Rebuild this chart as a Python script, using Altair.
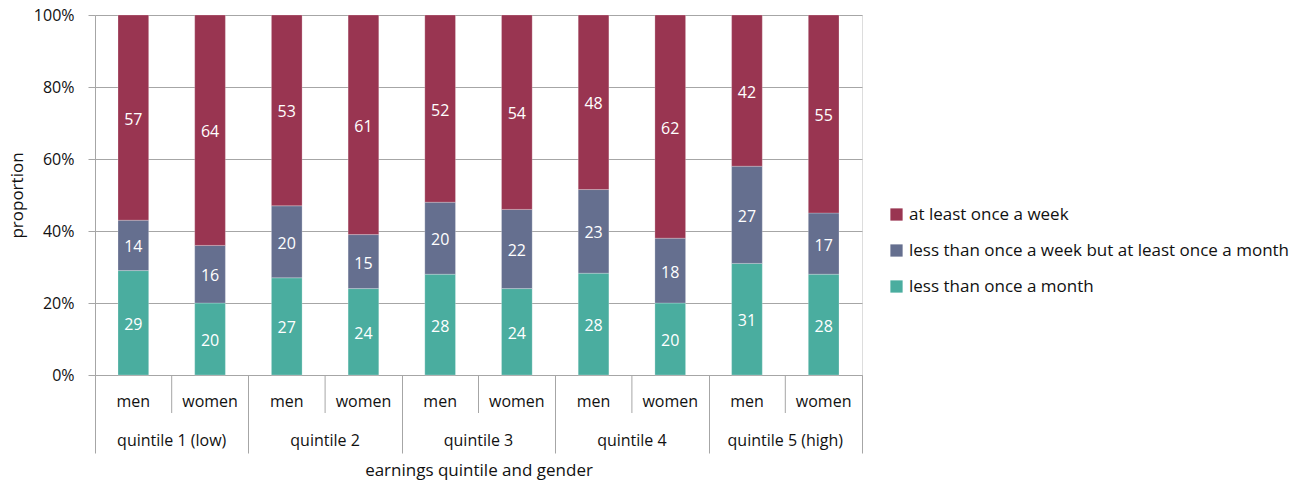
import altair as alt
import pandas as pd

quintiles = ["quintile 1 (low)", "quintile 2", "quintile 3", "quintile 4", "quintile 5 (high)"]
genders = ["men", "women"]
categories = ["at least once a week",
              "less than once a week but at least once a month",
              "less than once a month"]
colors = ["#993551", "#656f8f", "#4aad9f"]

# values per bar, in order q1 men, q1 women, q2 men, ...
less_than_month = [29, 20, 27, 24, 28, 24, 28, 20, 31, 28]
week_to_month = [14, 16, 20, 15, 20, 22, 23, 18, 27, 17]
at_least_week = [57, 64, 53, 61, 52, 54, 48, 62, 42, 55]

rows = []
i = 0
for q in quintiles:
    for g in genders:
        rows.append(dict(quintile=q, gender=g, cat=categories[2], value=less_than_month[i], order=1))
        rows.append(dict(quintile=q, gender=g, cat=categories[1], value=week_to_month[i], order=2))
        rows.append(dict(quintile=q, gender=g, cat=categories[0], value=at_least_week[i], order=3))
        i += 1
df = pd.DataFrame(rows)
slots = pd.DataFrame([dict(quintile=q, gender=g) for q in quintiles for g in genders])
groups = pd.DataFrame(dict(quintile=quintiles))

FONT = "Open Sans"
GRID = "#a6a6a6"

xenc = alt.X("quintile:N", sort=quintiles,
             scale=alt.Scale(paddingInner=0, paddingOuter=0),
             axis=alt.Axis(labels=False, tickBand="extent", tickSize=78, tickColor=GRID,
                           domainColor=GRID, title="earnings quintile and gender",
                           titleFontSize=17, titleFontWeight="normal", titleFont=FONT,
                           titleColor="#111", titlePadding=9, grid=False))
xoff = alt.XOffset("gender:N", sort=genders,
                   scale=alt.Scale(paddingInner=0.6, paddingOuter=0.3))

base = alt.Chart(df)

bars = base.mark_bar(stroke="white", strokeWidth=0.6, strokeOpacity=0.4).encode(
    x=xenc,
    xOffset=xoff,
    y=alt.Y("value:Q", stack="normalize",
            scale=alt.Scale(domain=[0, 1]),
            axis=alt.Axis(values=[0, 0.2, 0.4, 0.6, 0.8, 1.0], format=".0%",
                          title="proportion", grid=True, gridColor=GRID,
                          domainColor=GRID, tickColor=GRID, tickSize=7,
                          labelPadding=14, labelFontSize=16, labelFont=FONT,
                          labelColor="#111", titleFontSize=17, titleFont=FONT,
                          titleFontWeight="normal", titleColor="#111",
                          titlePadding=7)),
    color=alt.Color("cat:N", scale=alt.Scale(domain=categories, range=colors),
                    legend=alt.Legend(title=None, orient="none", legendX=793, legendY=191,
                                      symbolType="square", symbolSize=150,
                                      symbolStrokeWidth=0, labelFontSize=17,
                                      labelFont=FONT, labelColor="#111", labelLimit=0,
                                      rowPadding=18, labelOffset=4)),
    order=alt.Order("order:Q"),
)

labels = base.transform_joinaggregate(
    total="sum(value)", groupby=["quintile", "gender"]
).transform_window(
    cum="sum(value)", sort=[alt.SortField("order")], groupby=["quintile", "gender"],
    frame=[None, 0]
).transform_calculate(
    mid="(datum.cum - datum.value/2)/datum.total"
).mark_text(color="white", fontSize=16, font=FONT, dy=2).encode(
    x=alt.X("quintile:N", sort=quintiles),
    xOffset=alt.XOffset("gender:N", sort=genders),
    y=alt.Y("mid:Q"),
    text=alt.Text("value:Q"),
)

gender_labels = alt.Chart(slots).mark_text(fontSize=16, font=FONT, color="#111",
                                           baseline="middle").encode(
    x=alt.X("quintile:N", sort=quintiles),
    xOffset=alt.XOffset("gender:N", sort=genders),
    y=alt.value(387),
    text="gender:N",
)

quintile_labels = alt.Chart(groups).mark_text(fontSize=16, font=FONT, color="#111",
                                              baseline="middle").encode(
    x=alt.X("quintile:N", sort=quintiles),
    y=alt.value(426),
    text="quintile:N",
)

inner_sep = alt.Chart(groups).mark_rule(color=GRID, strokeWidth=1).encode(
    x=alt.X("quintile:N", sort=quintiles),
    y=alt.value(360),
    y2=alt.value(398),
)

chart = alt.layer(bars, labels, gender_labels, quintile_labels, inner_sep).properties(
    width=767, height=360,
    autosize=alt.AutoSizeParams(type="none"),
    padding={"left": 87, "top": 7, "right": 440, "bottom": 108},
).configure_view(stroke=None).configure(background="white")

chart.save("out.html", embed_options={"renderer": "svg", "actions": False})
